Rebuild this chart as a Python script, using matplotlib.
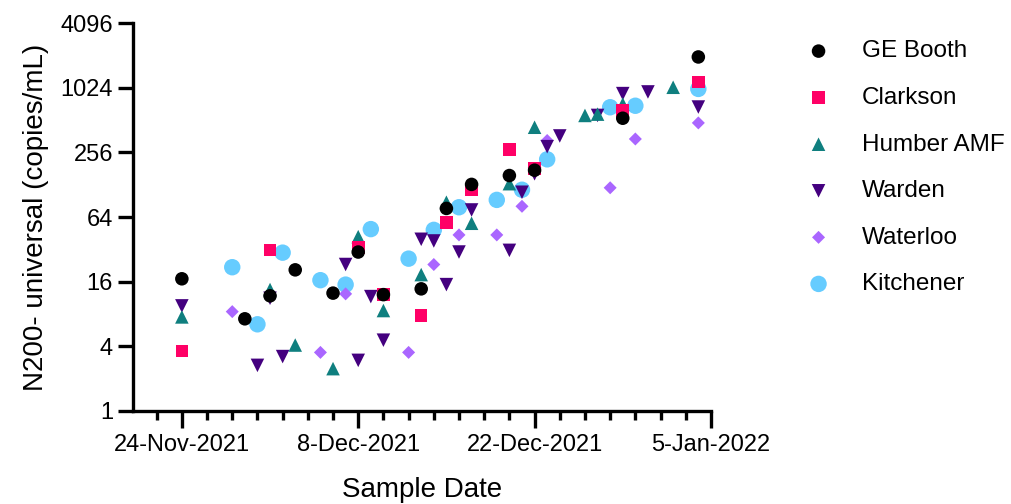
import datetime as dt

import matplotlib
matplotlib.use('Agg')
import matplotlib.pyplot as plt
import matplotlib.dates as mdates
from matplotlib.ticker import FixedLocator, NullFormatter

plt.rcParams['font.family'] = ['Liberation Sans', 'DejaVu Sans']

# 各站点采样日期与浓度 (copies/mL)
booth_dates = ['2021-11-24', '2021-11-29', '2021-12-01', '2021-12-03', '2021-12-06', '2021-12-08',
               '2021-12-10', '2021-12-13', '2021-12-15', '2021-12-17', '2021-12-20', '2021-12-22',
               '2021-12-29', '2022-01-04']
booth_vals = [17, 7.2, 11.8, 20.6, 12.5, 30.2, 12.1, 13.7, 77, 129, 156, 175, 534, 1990]

clarkson_dates = ['2021-11-24', '2021-12-01', '2021-12-08', '2021-12-10', '2021-12-13', '2021-12-15',
                  '2021-12-17', '2021-12-20', '2021-12-22', '2021-12-29', '2022-01-04']
clarkson_vals = [3.6, 31.5, 33.2, 12.1, 7.7, 57, 116, 273, 181, 631, 1166]

humber_dates = ['2021-11-24', '2021-12-01', '2021-12-03', '2021-12-06', '2021-12-08', '2021-12-10',
                '2021-12-13', '2021-12-15', '2021-12-17', '2021-12-20', '2021-12-22', '2021-12-26',
                '2021-12-27', '2021-12-29', '2022-01-02']
humber_vals = [7.5, 13.5, 4.1, 2.47, 42, 8.6, 18.6, 88, 56, 131, 440, 567, 583, 724, 1038]

warden_dates = ['2021-11-24', '2021-11-30', '2021-12-01', '2021-12-02', '2021-12-07', '2021-12-08',
                '2021-12-09', '2021-12-10', '2021-12-13', '2021-12-14', '2021-12-15', '2021-12-16',
                '2021-12-17', '2021-12-20', '2021-12-21', '2021-12-22', '2021-12-23', '2021-12-24',
                '2021-12-27', '2021-12-29', '2021-12-31', '2022-01-04']
warden_vals = [9.5, 2.65, 11.2, 3.2, 23.1, 2.95, 11.6, 4.55, 39.7, 38.3, 15, 30.2,
               74.5, 31.3, 109, 162, 290, 365, 567, 906, 939, 679]

waterloo_dates = ['2021-11-28', '2021-12-05', '2021-12-07', '2021-12-12', '2021-12-14', '2021-12-16',
                  '2021-12-19', '2021-12-21', '2021-12-23', '2021-12-28', '2021-12-30', '2022-01-04']
waterloo_vals = [8.4, 3.5, 12.3, 3.5, 23.1, 43.6, 43.6, 80.6, 331, 120, 342, 483]

kitchener_dates = ['2021-11-28', '2021-11-30', '2021-12-02', '2021-12-05', '2021-12-07', '2021-12-09',
                   '2021-12-12', '2021-12-14', '2021-12-16', '2021-12-19', '2021-12-21', '2021-12-23',
                   '2021-12-28', '2021-12-30', '2022-01-04']
kitchener_vals = [21.8, 6.4, 29.8, 16.5, 15, 49.4, 26.2, 48.6, 79, 92.5, 115, 221, 676, 698, 1002]

y_ticks = [1, 4, 16, 64, 256, 1024, 4096]
x_tick_dates = ['2021-11-24', '2021-12-08', '2021-12-22', '2022-01-05']
x_tick_labels = ['24-Nov-2021', '8-Dec-2021', '22-Dec-2021', '5-Jan-2022']


def to_dates(lst):
    return [dt.datetime.strptime(s, '%Y-%m-%d') for s in lst]


fig = plt.figure(figsize=(10.11, 5.04), dpi=100)
ax = fig.add_axes([0.1316, 0.185, 0.5716, 0.7687])

series = [
    ('GE Booth', booth_dates, booth_vals, 'o', '#000000', 95),
    ('Clarkson', clarkson_dates, clarkson_vals, 's', '#FF0066', 82),
    ('Humber AMF', humber_dates, humber_vals, '^', '#0F7F7F', 95),
    ('Warden', warden_dates, warden_vals, 'v', '#44007F', 95),
    ('Waterloo', waterloo_dates, waterloo_vals, 'D', '#AA66FF', 44),
    ('Kitchener', kitchener_dates, kitchener_vals, 'o', '#66CCFF', 140),
]

handles = []
for i, (name, ds, vs, m, c, s) in enumerate(series):
    # 前面的系列画在上层
    h = ax.scatter(to_dates(ds), vs, marker=m, c=c, s=s, edgecolors='none', label=name,
                   zorder=10 - i, clip_on=False)
    handles.append(h)

ax.set_yscale('log', base=2)
ax.set_ylim(1, 4096)
ax.set_yticks(y_ticks)
ax.set_yticklabels([str(v) for v in y_ticks])
ax.yaxis.set_minor_locator(FixedLocator([]))
ax.yaxis.set_minor_formatter(NullFormatter())

x0 = mdates.date2num(dt.datetime(2021, 11, 20, 3))
x1 = mdates.date2num(dt.datetime(2022, 1, 5))
ax.set_xlim(x0, x1)
ax.set_xticks(mdates.date2num(to_dates(x_tick_dates)))
ax.set_xticklabels(x_tick_labels)
minor = [mdates.date2num(dt.datetime(2021, 11, 22) + dt.timedelta(days=2 * i)) for i in range(22)]
ax.xaxis.set_minor_locator(FixedLocator(minor))

for side in ['top', 'right']:
    ax.spines[side].set_visible(False)
for side in ['left', 'bottom']:
    ax.spines[side].set_linewidth(2.4)

ax.tick_params(axis='both', which='major', width=2.4, length=10.5, labelsize=17, pad=4)
ax.tick_params(axis='x', which='major', length=12.5, pad=4)
ax.tick_params(axis='x', which='minor', width=2.4, length=6.5)

ax.set_xlabel('Sample Date', fontsize=20, labelpad=15)
ax.set_ylabel('N200- universal (copies/mL)', fontsize=20, labelpad=8)

fig.legend(handles=handles, loc='upper left', bbox_to_anchor=(0.788, 0.939), frameon=False,
           fontsize=17.5, labelspacing=1.01, handlelength=1.0, handletextpad=1.28,
           scatterpoints=1, borderaxespad=0)

fig.savefig('out.png', dpi=100)
